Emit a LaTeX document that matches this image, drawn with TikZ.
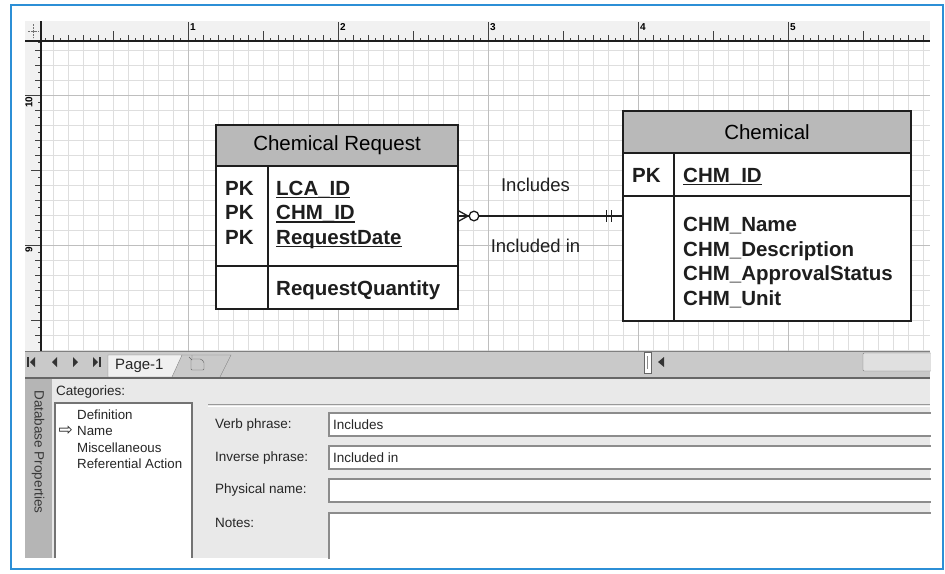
\documentclass[tikz,border=0pt]{standalone}
\usepackage{fontspec}
\setmainfont{Liberation Sans}
\newfontfamily\symfont{DejaVu Sans}
\usetikzlibrary{positioning,calc}
\definecolor{ink}{HTML}{1E1E1E}
\definecolor{headgray}{HTML}{B9B9B9}
\definecolor{gridgray}{HTML}{DEDEDE}
\definecolor{gridmajor}{HTML}{BEBEBE}
\definecolor{rulerbg}{HTML}{F1F1F1}
\definecolor{barbg}{HTML}{C9C9C9}
\definecolor{panelbg}{HTML}{E9E9E9}
\definecolor{sidebar}{HTML}{B5B5B5}
\definecolor{uitext}{HTML}{262626}
\definecolor{frameblue}{HTML}{2C8FD6}
\newcommand{\keyline}[1]{\setbox0\hbox{#1}\rlap{\rule[-2.6pt]{\wd0}{1.5pt}}\box0}
\tikzset{
  enthead/.style={draw=ink, fill=headgray, line width=1.3pt, inner sep=0pt, outer sep=0pt, font=\fontsize{20.5}{24}\selectfont},
  entpart/.style={draw=ink, fill=white, line width=1.3pt, inner sep=0pt, outer sep=0pt},
  cols/.style={inner sep=0pt, align=left, anchor=base west, text=ink, font=\fontsize{20.5}{24.5}\selectfont\bfseries},
  rel/.style={draw=ink, line width=1.6pt},
  rellbl/.style={inner sep=0pt, text=ink, font=\fontsize{18.5}{22}\selectfont},
  gridln/.style={draw=gridgray, line width=0.7pt},
  gridmaj/.style={draw=gridmajor, line width=0.8pt},
  tick/.style={draw=black!75, line width=0.6pt},
  rulerno/.style={inner sep=0pt, font=\fontsize{10}{10}\selectfont\bfseries},
  ui/.style={inner sep=0pt, anchor=west, text=uitext, font=\fontsize{13.5}{16}\selectfont},
  uibox/.style={draw=black!45, fill=white, line width=1.1pt},
  navtip/.style={fill=black!80}
}
\begin{document}
\begin{tikzpicture}[x=1pt, y=1pt]
\useasboundingbox (0,0) rectangle (945,-573);
\fill[white] (0,0) rectangle (945,-573);

% page grid
\foreach \x in {53,68,...,923} \draw[gridln] (\x,-41) -- (\x,-351);
\foreach \y in {50,65,...,350} \draw[gridln] (41,-\y) -- (930,-\y);
\foreach \x in {188,338,...,788} \draw[gridmaj] (\x,-41) -- (\x,-351);
\foreach \y in {95,245} \draw[gridmaj] (41,-\y) -- (930,-\y);

% rulers
\fill[rulerbg] (25,-21) rectangle (930,-41);
\fill[rulerbg] (25,-41) rectangle (41,-351);
\foreach \k in {1,...,118} {
  \pgfmathtruncatemacro\len{mod(\k,20)==0 ? 19 : (mod(\k,10)==0 ? 10 : (mod(\k,2)==0 ? 6 : 3))}
  \draw[tick] (38+7.5*\k,-41) -- ++(0,\len);
}
\foreach \k in {5,...,45} {
  \pgfmathtruncatemacro\len{mod(\k+8,20)==0 ? 16 : (mod(\k+8,10)==0 ? 10 : (mod(\k,2)==0 ? 6 : 3))}
  \draw[tick] (41,-5-7.5*\k) -- ++(-\len,0);
}
\foreach \n/\x in {1/190,2/340,3/490,4/640,5/790}
  \node[rulerno, anchor=north west] (hr\n) at (\x,-23) {\n};
\node[rulerno, rotate=90] (vr10) at (29,-102) {10};
\node[rulerno, rotate=90] (vr9) at (29,-250) {9};
\draw[ink, line width=1.2pt] (25,-41) -- (930,-41);
\draw[ink, line width=1.2pt] (41,-21) -- (41,-351);
\draw[black!55, densely dotted] (28,-31) -- (38,-31) (33,-24) -- (33,-38);

% entities
\node[enthead, minimum width=242, minimum height=41, anchor=north west] (reqhead) at (216,-125) {Chemical Request};
\node[entpart, minimum width=242, minimum height=100, below=0pt of reqhead] (reqkeys) {};
\node[entpart, minimum width=242, minimum height=43, below=0pt of reqkeys] (reqattr) {};
\draw[ink, line width=1.3pt] ([xshift=52]reqkeys.north west) -- ([xshift=52]reqattr.south west);
\node[cols] (reqpk) at ($(reqkeys.west)+(9,-28.4)$) {PK\\PK\\PK};
\node[cols] (reqids) at ($(reqkeys.west)+(60,-28.4)$) {\keyline{LCA\_ID}\\\keyline{CHM\_ID}\\\keyline{RequestDate}};
\node[cols] (reqqty) at ($(reqattr.west)+(60,-7.9)$) {RequestQuantity};

\node[enthead, minimum width=288, minimum height=42, anchor=north west] (chemhead) at (623,-111) {Chemical};
\node[entpart, minimum width=288, minimum height=43, below=0pt of chemhead] (chemkeys) {};
\node[entpart, minimum width=288, minimum height=125, below=0pt of chemkeys] (chemattr) {};
\draw[ink, line width=1.3pt] ([xshift=51]chemkeys.north west) -- ([xshift=51]chemattr.south west);
\node[cols] (chempk) at ($(chemkeys.west)+(9,-7.9)$) {PK};
\node[cols] (chemid) at ($(chemkeys.west)+(60,-7.9)$) {\keyline{CHM\_ID}};
\node[cols] (chemcols) at ($(chemattr.west)+(60,-46.9)$) {CHM\_Name\\CHM\_Description\\CHM\_ApprovalStatus\\CHM\_Unit};

% relationship
\coordinate (chemjoin) at (reqkeys.east -| chemattr.west);
\draw[rel] (reqkeys.east) -- node[rellbl, pos=0.47, above=24pt] (verbtxt) {Includes}
  node[rellbl, pos=0.47, below=22pt] (invtxt) {Included in} (chemjoin);
\draw[rel, line width=1.3pt] ([yshift=5.5]reqkeys.east) -- ([xshift=10]reqkeys.east) -- ([yshift=-5.5]reqkeys.east);
\draw[rel, line width=1.3pt, fill=white] ([xshift=16]reqkeys.east) circle (4.8);
\draw[rel, line width=1.3pt] ([xshift=-16.5,yshift=6]chemjoin) -- ++(0,-12);
\draw[rel, line width=1.3pt] ([xshift=-11.5,yshift=6]chemjoin) -- ++(0,-12);

% page tabs and scroll bar
\fill[barbg] (25,-351) rectangle (930,-378);
\draw[black!50, line width=0.8pt] (25,-351) -- (930,-351);
\fill[navtip] (27,-357) rectangle (29,-367);
\fill[navtip] (35,-357) -- (30,-362) -- (35,-367) -- cycle;
\fill[navtip] (57,-357) -- (52,-362) -- (57,-367) -- cycle;
\fill[navtip] (73,-357) -- (78,-362) -- (73,-367) -- cycle;
\fill[navtip] (93,-357) -- (98,-362) -- (93,-367) -- cycle;
\fill[navtip] (98.5,-357) rectangle (100.5,-367);
\filldraw[fill=white!94!black, draw=black!50] (108,-377) -- (108,-355) -- (182,-355) -- (172,-377) -- cycle;
\node[ui, font=\fontsize{15}{18}\selectfont] (pagetab) at (115,-366) {Page-1};
\draw[black!50] (182,-355) -- (231,-355) -- (220,-377);
\draw[black!60, rounded corners=1pt] (191,-359) -- (201,-359) -- (204,-362) -- (204,-370) -- (191,-370) -- cycle;
\draw[black!60] (189,-357) -- (192,-360) (192,-355) -- (192,-358);
\filldraw[fill=white, draw=black!60] (644,-352) rectangle (651,-373);
\draw[black!45] (647.5,-356) -- (647.5,-369);
\fill[navtip] (664,-357) -- (658,-362) -- (664,-367) -- cycle;
\filldraw[fill=black!12, draw=black!50, rounded corners=1pt] (863,-353) rectangle (935,-371);
\fill[white] (930.6,-350) rectangle (942,-380);
\draw[black!60, line width=1.4pt] (25,-378) -- (930,-378);

% properties window
\fill[panelbg] (25,-379) rectangle (930,-558);
\fill[sidebar] (25,-379) rectangle (52,-558);
\node[ui, rotate=-90, anchor=center, text=black!78] (dbprops) at (38,-452) {Database Properties};
\node[ui] (cathead) at (56,-392) {Categories:};
\fill[white] (55,-403) rectangle (192,-558);
\draw[black!55, line width=1.6pt] (55,-558) -- (55,-403) -- (192,-403) -- (192,-558);
\foreach \t/\y [count=\i] in {Definition/419.5,Name/435.8,Miscellaneous/452.3,Referential Action/468.5}
  \node[ui, anchor=base west, font=\fontsize{13.3}{16}\selectfont] (cat\i) at (77,-\y) {\t};
\node[ui, font=\symfont\fontsize{17}{18}\selectfont] (catmark) at (58.5,-431) {⇨};
\draw[black!40, line width=1pt] (208,-404.5) -- (930,-404.5);
\draw[white, line width=1pt] (208,-406) -- (930,-406);
\foreach \t/\y [count=\i] in {Verb phrase:/425,Inverse phrase:/458,Physical name:/490,Notes:/523}
  \node[ui] (lbl\i) at (215,-\y) {\t};
\draw[uibox] (329,-413) rectangle (936,-436);
\draw[uibox] (329,-446) rectangle (936,-469);
\draw[uibox] (329,-479) rectangle (936,-502);
\draw[uibox] (329,-513) rectangle (936,-562);
\fill[white] (930.6,-380) rectangle (942,-567);
\fill[white] (25,-558.6) rectangle (942,-567);
\node[ui] (verbfld) at (333,-425) {Includes};
\node[ui] (invfld) at (333,-458) {Included in};

% outer frame
\draw[frameblue, line width=1.2pt] (11,-5) rectangle (943,-569);
\end{tikzpicture}
\end{document}
